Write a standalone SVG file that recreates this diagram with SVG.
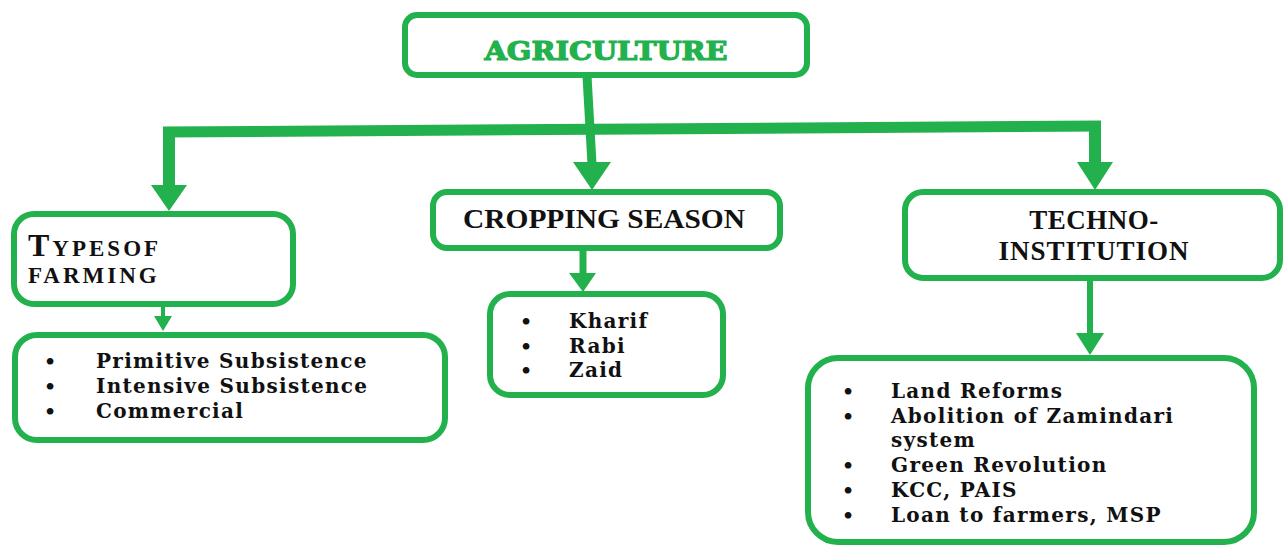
<svg xmlns="http://www.w3.org/2000/svg" width="1285" height="548" viewBox="0 0 1285 548">
<style>
.box{fill:#fff;stroke:#22B14C;stroke-width:6}
.hd{font-family:"Liberation Serif","Times New Roman",serif;font-weight:bold;fill:#111}
.li{font-family:"DejaVu Serif",serif;font-weight:bold;font-size:20px;letter-spacing:1.3px;fill:#111}
.bl{font-family:"DejaVu Serif",serif;font-weight:bold;font-size:19px;fill:#111}
.ln{stroke:#22B14C;fill:none}
.ah{fill:#22B14C}
</style>
<rect width="1285" height="548" fill="#fff"/>
<g id="connectors">
<line class="ln" x1="587" y1="76" x2="592" y2="164" stroke-width="9"/>
<line class="ln" x1="163" y1="132" x2="1101" y2="126" stroke-width="11"/>
<polygon class="ah" points="573,162 611,162 592,190"/>
<line class="ln" x1="169" y1="127" x2="169" y2="187" stroke-width="12"/>
<polygon class="ah" points="151,185 187,185 169,211"/>
<line class="ln" x1="1095" y1="121" x2="1095" y2="164" stroke-width="12"/>
<polygon class="ah" points="1077,162 1113,162 1095,190"/>
<line class="ln" x1="163" y1="290" x2="163" y2="318" stroke-width="4"/>
<polygon class="ah" points="154,316 172,316 163,331"/>
<line class="ln" x1="583" y1="250" x2="583" y2="275" stroke-width="7"/>
<polygon class="ah" points="569,273 596,273 583,292"/>
<line class="ln" x1="1090" y1="279" x2="1090" y2="335" stroke-width="6"/>
<polygon class="ah" points="1076,333 1104,333 1090,355"/>
</g>
<g id="agriculture">
<rect class="box" x="405" y="15" width="402" height="60" rx="12"/>
<text x="606" y="60" text-anchor="middle" font-family="DejaVu Serif, serif" font-weight="bold" font-size="26" fill="#22B14C" stroke="#22B14C" stroke-width="1.2" textLength="243" lengthAdjust="spacingAndGlyphs">AGRICULTURE</text>
</g>
<g id="types">
<rect class="box" x="14" y="214" width="279" height="90" rx="20"/>
<text class="hd" x="28" y="256" font-size="23" letter-spacing="3"><tspan font-size="32">T</tspan>YPESOF</text>
<text class="hd" x="28" y="283" font-size="23" letter-spacing="3">FARMING</text>
</g>
<g id="cropping">
<rect class="box" x="433" y="192" width="347" height="56" rx="14"/>
<text class="hd" x="463" y="228" font-size="27" textLength="282" lengthAdjust="spacingAndGlyphs">CROPPING SEASON</text>
</g>
<g id="techno">
<rect class="box" x="905" y="192" width="375" height="86" rx="18"/>
<text class="hd" x="1094" y="229" font-size="27" text-anchor="middle" letter-spacing="0.5">TECHNO-</text>
<text class="hd" x="1094" y="260" font-size="27" text-anchor="middle" letter-spacing="1">INSTITUTION</text>
</g>
<g id="types-list">
<rect class="box" x="15" y="335" width="430" height="105" rx="22"/>
<text class="bl" x="44" y="368">•</text>
<text class="bl" x="44" y="393">•</text>
<text class="bl" x="44" y="418">•</text>
<text class="li" x="96" y="368">Primitive Subsistence</text>
<text class="li" x="96" y="393">Intensive Subsistence</text>
<text class="li" x="96" y="418">Commercial</text>
</g>
<g id="seasons-list">
<rect class="box" x="490" y="294" width="233" height="101" rx="20"/>
<text class="bl" x="520" y="328">•</text>
<text class="bl" x="520" y="353">•</text>
<text class="bl" x="520" y="377">•</text>
<text class="li" x="569" y="328">Kharif</text>
<text class="li" x="569" y="353">Rabi</text>
<text class="li" x="569" y="377">Zaid</text>
</g>
<g id="techno-list">
<rect class="box" x="808" y="358" width="446" height="184" rx="30"/>
<text class="bl" x="842" y="398">•</text>
<text class="bl" x="842" y="423">•</text>
<text class="bl" x="842" y="472">•</text>
<text class="bl" x="842" y="497">•</text>
<text class="bl" x="842" y="522">•</text>
<text class="li" x="891" y="398">Land Reforms</text>
<text class="li" x="891" y="423">Abolition of Zamindari</text>
<text class="li" x="891" y="447">system</text>
<text class="li" x="891" y="472">Green Revolution</text>
<text class="li" x="891" y="497">KCC, PAIS</text>
<text class="li" x="891" y="522">Loan to farmers, MSP</text>
</g>
</svg>
